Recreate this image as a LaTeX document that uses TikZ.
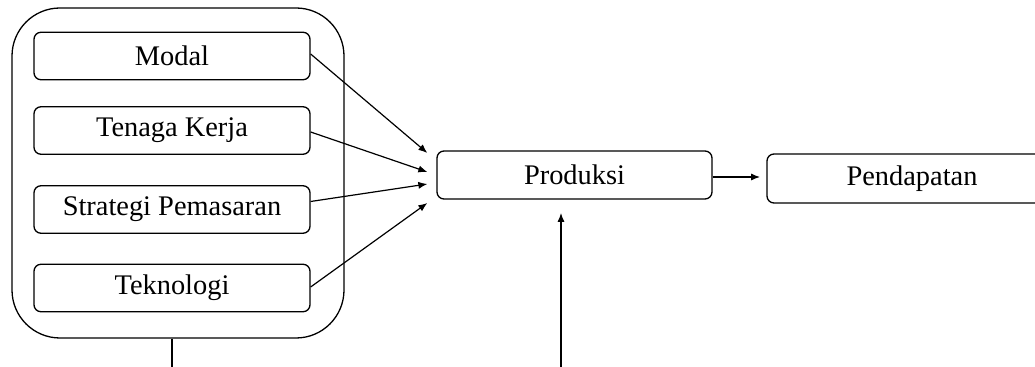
\documentclass[tikz,border=0pt]{standalone}
\usepackage{fontspec}
\setmainfont{Liberation Serif}
\usetikzlibrary{arrows.meta,calc}

\tikzset{
  card/.style={draw, line width=0.65pt, rounded corners=3.5pt, inner sep=0pt,
    font=\fontsize{14.2}{16}\selectfont},
  factor/.style={card, minimum width=138pt, minimum height=23.75pt},
  group/.style={draw, line width=0.65pt, rounded corners=24pt, inner sep=0pt,
    minimum width=166pt, minimum height=165pt},
  link/.style={line width=0.6pt, -{Latex[length=4.5pt,width=3.6pt]}},
  plain/.style={line width=0.65pt}
}

\begin{document}
\begin{tikzpicture}[x=0.5pt,y=-0.5pt]
\clip (0,0) rectangle (1035,367);
\fill[white] (0,0) rectangle (1035,367);

% outer group of inputs
\node[group] (grp) at (178,173) {};

% input factors
\node[factor] (modal) at (172,56) {Modal};
\node[factor] (tk)    at (172,130.5) {Tenaga Kerja};
\node[factor] (sp)    at (172,209.5) {Strategi Pemasaran};
\node[factor] (tek)   at (172,288) {Teknologi};

% production and income
\node[card, minimum width=137.5pt, minimum height=24pt] (prod) at (574.5,175) {Produksi};
\node[card, minimum width=145pt, minimum height=24.5pt] (pend) at (912,178.5) {Pendapatan};

% arrow end points in front of Produksi
\coordinate (t1) at ($(prod.west)+(-9,-22)$);
\coordinate (t2) at ($(prod.west)+(-9,-3)$);
\coordinate (t3) at ($(prod.west)+(-9,9)$);
\coordinate (t4) at ($(prod.west)+(-9,28)$);

\draw[link] ($(modal.east)+(0,-2)$) -- (t1);
\draw[link] ($(tk.east)+(0,1.5)$) -- (t2);
\draw[link] ($(sp.east)+(0,-8)$) -- (t3);
\draw[link] ($(tek.east)+(0,-1)$) -- (t4);

% Produksi to Pendapatan
\coordinate (pa) at (760,177);
\draw[link] (prod.east |- pa) -- (pa);

% open line leaving the group downwards
\coordinate (g1) at (172,367);
\draw[plain] (g1 |- grp.south) -- (g1);

% open arrow rising towards Produksi
\coordinate (u0) at (561,367);
\coordinate (u1) at (561,213);
\draw[link] (u0) -- (u1);
\end{tikzpicture}
\end{document}
